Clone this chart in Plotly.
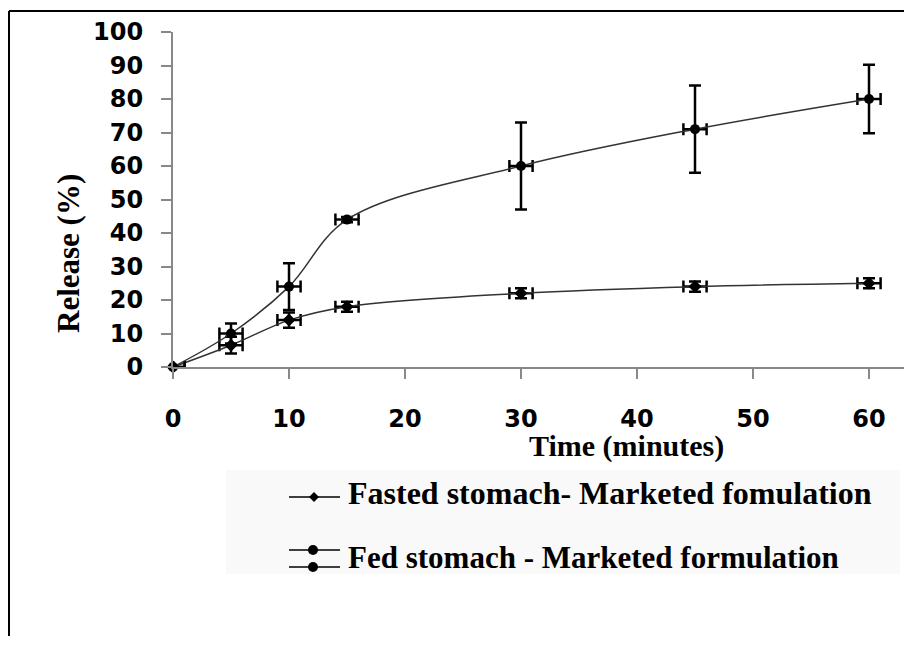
import plotly.graph_objects as go

# ---- data ----
time_min = [0, 5, 10, 15, 30, 45, 60]
fasted_release = [0, 6.5, 14, 18, 22, 24, 25]
fasted_err_y = [0, 2.5, 2.3, 1.5, 1.5, 1.5, 1.5]
fed_release = [0, 10, 24, 44, 60, 71, 80]
fed_err_y = [0, 3, 7, 0.8, 13, 13, 10.2]
time_err_plus = [1, 1, 1, 1, 1, 1, 1]
time_err_minus = [0, 1, 1, 1, 1, 1, 1]
x_ticks = [0, 10, 20, 30, 40, 50, 60]
y_ticks = [0, 10, 20, 30, 40, 50, 60, 70, 80, 90, 100]

OFF = 8  # page body margin: screen pixel = figure pixel + OFF
W, H = 896, 628
L, R, T, B = 173 - OFF, W, 32 - OFF, 367 - OFF  # plot area in figure pixels
PX_PER_MIN = 11.6


def px(xs):
    """screen x pixel -> paper coordinate"""
    return (xs - OFF - L) / (R - L)


def py(ys):
    """screen y pixel -> paper coordinate"""
    return (B - (ys - OFF)) / (B - T)


fig = go.Figure()

err_style = dict(color="black", thickness=2.5, width=6)

fig.add_trace(go.Scatter(
    x=time_min, y=fasted_release, mode="lines+markers",
    name="Fasted stomach- Marketed fomulation",
    line=dict(color="#333333", width=1.5, shape="spline", smoothing=1.0),
    marker=dict(symbol="diamond", size=10, color="black"),
    error_y=dict(type="data", array=fasted_err_y, visible=True, **err_style),
    error_x=dict(type="data", array=time_err_plus, arrayminus=time_err_minus,
                 symmetric=False, visible=True, **err_style),
    cliponaxis=False, showlegend=False,
))
fig.add_trace(go.Scatter(
    x=time_min, y=fed_release, mode="lines+markers",
    name="Fed stomach - Marketed formulation",
    line=dict(color="#333333", width=1.5, shape="spline", smoothing=1.0),
    marker=dict(symbol="circle", size=10, color="black"),
    error_y=dict(type="data", array=fed_err_y, visible=True, **err_style),
    error_x=dict(type="data", array=time_err_plus, arrayminus=time_err_minus,
                 symmetric=False, visible=True, **err_style),
    cliponaxis=False, showlegend=False,
))

axis_col = "#888888"
tickfont = dict(family="DejaVu Sans", size=24, color="black", weight="bold")

fig.update_xaxes(
    range=[0, (R - L) / PX_PER_MIN], tickvals=x_ticks, ticktext=[str(v) for v in x_ticks],
    showline=True, linecolor=axis_col, linewidth=2,
    ticks="outside", ticklen=10, tickwidth=2, tickcolor=axis_col,
    showgrid=False, zeroline=False, tickfont=tickfont, ticklabelstandoff=19,
)
fig.update_yaxes(
    range=[0, 100], tickvals=y_ticks, ticktext=[str(v) for v in y_ticks],
    showline=True, linecolor=axis_col, linewidth=2,
    ticks="outside", ticklen=10, tickwidth=2, tickcolor=axis_col,
    showgrid=False, zeroline=False, tickfont=tickfont, ticklabelstandoff=13,
)

serif = "Liberation Serif"
shapes = [
    # outer frame (top and left)
    dict(type="line", xref="paper", yref="paper", x0=px(9), x1=px(904), y0=py(11), y1=py(11),
         line=dict(color="black", width=2)),
    dict(type="line", xref="paper", yref="paper", x0=px(9), x1=px(9), y0=py(11), y1=py(636),
         line=dict(color="black", width=2)),
    # legend background
    dict(type="rect", xref="paper", yref="paper", x0=px(226), x1=px(900), y0=py(470), y1=py(574),
         line=dict(width=0), fillcolor="#f9f9f9", layer="below"),
    # legend symbol lines
    dict(type="line", xref="paper", yref="paper", x0=px(289), x1=px(340), y0=py(497), y1=py(497),
         line=dict(color="black", width=1.5)),
    dict(type="line", xref="paper", yref="paper", x0=px(289), x1=px(340), y0=py(550), y1=py(550),
         line=dict(color="black", width=1.5)),
    dict(type="line", xref="paper", yref="paper", x0=px(289), x1=px(340), y0=py(567), y1=py(567),
         line=dict(color="black", width=1.5)),
]


def circle(cx, cy, r):
    return dict(type="circle", xref="paper", yref="paper",
                x0=px(cx - r), x1=px(cx + r), y0=py(cy + r), y1=py(cy - r),
                fillcolor="black", line=dict(color="black", width=0))


def diamond(cx, cy, r):
    path = "M {} {} L {} {} L {} {} L {} {} Z".format(
        px(cx), py(cy - r), px(cx + r), py(cy), px(cx), py(cy + r), px(cx - r), py(cy))
    return dict(type="path", xref="paper", yref="paper", path=path,
                fillcolor="black", line=dict(color="black", width=0))


shapes += [diamond(314, 497, 5), circle(313, 550, 5), circle(313, 567, 5)]

annotations = [
    dict(text="Release (%)", xref="paper", yref="paper", x=px(68), y=py(253),
         textangle=-90, showarrow=False, xanchor="center", yanchor="middle",
         font=dict(family=serif, size=31, color="black", weight="bold")),
    dict(text="Time (minutes)", xref="paper", yref="paper", x=px(626), y=py(446),
         showarrow=False, xanchor="center", yanchor="middle",
         font=dict(family=serif, size=30, color="black", weight="bold")),
    dict(text="Fasted stomach- Marketed fomulation", xref="paper", yref="paper",
         x=px(346), y=py(493), showarrow=False, xanchor="left", yanchor="middle",
         font=dict(family=serif, size=32, color="black", weight="bold")),
    dict(text="Fed stomach - Marketed formulation", xref="paper", yref="paper",
         x=px(346), y=py(557), showarrow=False, xanchor="left", yanchor="middle",
         font=dict(family=serif, size=31, color="black", weight="bold")),
]

fig.update_layout(
    width=W, height=H,
    margin=dict(l=L, r=W - R, t=T, b=H - B, pad=0),
    plot_bgcolor="white", paper_bgcolor="white",
    shapes=shapes, annotations=annotations, showlegend=False,
)

fig.write_html("out.html")
